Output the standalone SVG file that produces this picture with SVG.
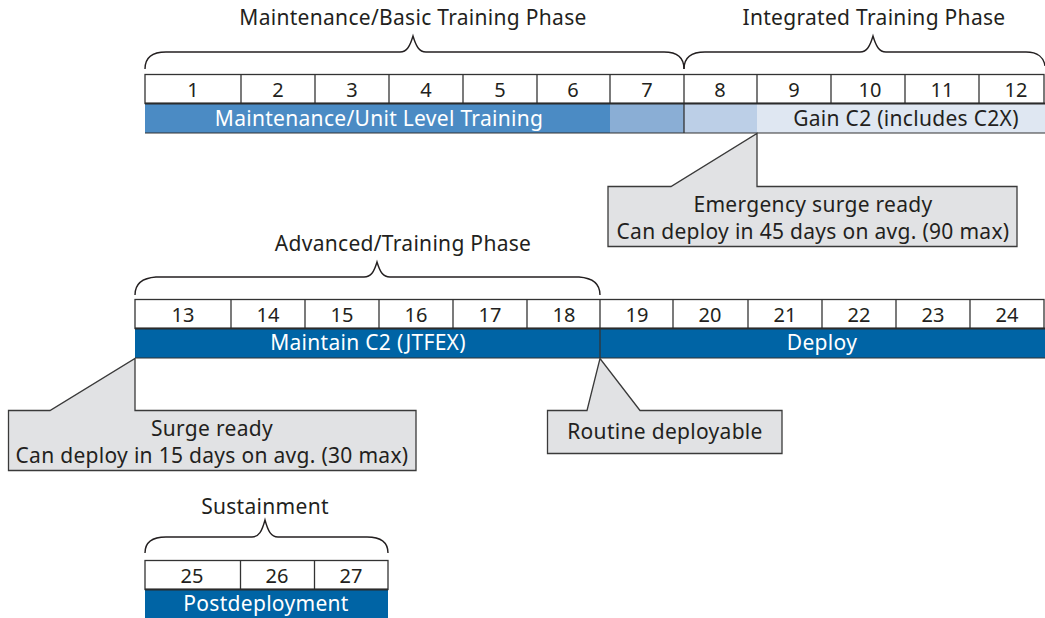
<svg xmlns="http://www.w3.org/2000/svg" width="1045" height="618" viewBox="0 0 1045 618">
  <style>
    text { font-family: "Noto Sans", "Open Sans", sans-serif; fill: #231f20; letter-spacing: 0.3px; }
    .num { font-size: 20px; text-anchor: middle; letter-spacing: 0; }
    .title { font-size: 21px; text-anchor: middle; }
    .bartxt { font-size: 21px; text-anchor: middle; fill: #ffffff; }
    .bardark { font-size: 21px; text-anchor: middle; fill: #231f20; }
    .note { font-size: 21px; text-anchor: middle; }
    .cell { fill: #ffffff; stroke: #333333; stroke-width: 1.3; }
    .sep { stroke: #333333; stroke-width: 1.3; }
    .rule { stroke: #2b2b2b; stroke-width: 2; }
    .edge { stroke: #333333; stroke-width: 1.2; }
    .brace { fill: none; stroke: #231f20; stroke-width: 1.4; }
    .callout { fill: #e1e2e4; stroke: #3a3a3a; stroke-width: 1.3; stroke-linejoin: miter; }
  </style>

  <!-- Braces and phase headings -->
  <g id="phase-basic">
    <path class="brace" d="M145,69 C145,58 152,52 166,52 L400,52 C407,52 410,46 413,36 C416,46 419,52 426,52 L664,52 C677,52 684,58 684,69"/>
    <text class="title" x="413" y="25">Maintenance/Basic Training Phase</text>
  </g>
  <g id="phase-integrated">
    <path class="brace" d="M684,69 C684,58 691,52 705,52 L860,52 C867,52 870,46 873,36 C876,46 879,52 886,52 L1026,52 C1038,52 1044,58 1045,66"/>
    <text class="title" x="874" y="25">Integrated Training Phase</text>
  </g>
  <g id="phase-advanced">
    <path class="brace" d="M135,295 C135,284 142,278 156,277 L364,277 C371,277 374,272 377,262 C380,272 383,277 390,277 L579,277 C593,278 600,284 600,295"/>
    <text class="title" x="403" y="251">Advanced/Training Phase</text>
  </g>
  <g id="phase-sustainment">
    <path class="brace" d="M145,553 C145,543 152,537 166,537 L252,537 C259,537 262,531 265,520 C268,531 271,537 278,537 L367,537 C381,537 388,543 388,553"/>
    <text class="title" x="265" y="514">Sustainment</text>
  </g>

  <!-- Months 1-12 -->
  <g id="row-months-1-12">
    <rect class="cell" x="145" y="74.5" width="899" height="29"/>
    <rect x="145" y="103" width="465" height="30" fill="#4b8bc4"/>
    <rect x="610" y="103" width="74" height="30" fill="#8aaed5"/>
    <rect x="684" y="103" width="73" height="30" fill="#bccfe7"/>
    <rect x="757" y="103" width="288" height="30" fill="#dfe7f2"/>
    <line class="sep" x1="241" y1="74.5" x2="241" y2="103"/>
    <line class="sep" x1="315" y1="74.5" x2="315" y2="103"/>
    <line class="sep" x1="389" y1="74.5" x2="389" y2="103"/>
    <line class="sep" x1="463" y1="74.5" x2="463" y2="103"/>
    <line class="sep" x1="537" y1="74.5" x2="537" y2="103"/>
    <line class="sep" x1="610" y1="74.5" x2="610" y2="103"/>
    <line class="sep" x1="684" y1="74.5" x2="684" y2="133"/>
    <line class="sep" x1="757" y1="74.5" x2="757" y2="103"/>
    <line class="sep" x1="831" y1="74.5" x2="831" y2="103"/>
    <line class="sep" x1="905" y1="74.5" x2="905" y2="103"/>
    <line class="sep" x1="979" y1="74.5" x2="979" y2="103"/>
    <line class="rule" x1="145" y1="103.5" x2="1045" y2="103.5"/>
    <line class="edge" x1="145" y1="133" x2="1045" y2="133"/>
    <text class="num" x="193" y="97">1</text>
    <text class="num" x="278" y="97">2</text>
    <text class="num" x="352" y="97">3</text>
    <text class="num" x="426" y="97">4</text>
    <text class="num" x="500" y="97">5</text>
    <text class="num" x="573" y="97">6</text>
    <text class="num" x="647" y="97">7</text>
    <text class="num" x="720" y="97">8</text>
    <text class="num" x="794" y="97">9</text>
    <text class="num" x="870" y="97">10</text>
    <text class="num" x="942" y="97">11</text>
    <text class="num" x="1016" y="97">12</text>
    <text class="bartxt" x="379" y="126">Maintenance/Unit Level Training</text>
    <text class="bardark" x="906" y="126">Gain C2 (includes C2X)</text>
  </g>

  <!-- Months 13-24 -->
  <g id="row-months-13-24">
    <rect class="cell" x="135" y="299.5" width="909" height="29"/>
    <rect x="135" y="328" width="910" height="30" fill="#0064a5"/>
    <line class="sep" x1="231" y1="299.5" x2="231" y2="328"/>
    <line class="sep" x1="305" y1="299.5" x2="305" y2="328"/>
    <line class="sep" x1="379" y1="299.5" x2="379" y2="328"/>
    <line class="sep" x1="453" y1="299.5" x2="453" y2="328"/>
    <line class="sep" x1="527" y1="299.5" x2="527" y2="328"/>
    <line class="sep" x1="600" y1="299.5" x2="600" y2="358"/>
    <line class="sep" x1="673" y1="299.5" x2="673" y2="328"/>
    <line class="sep" x1="748" y1="299.5" x2="748" y2="328"/>
    <line class="sep" x1="822" y1="299.5" x2="822" y2="328"/>
    <line class="sep" x1="896" y1="299.5" x2="896" y2="328"/>
    <line class="sep" x1="970" y1="299.5" x2="970" y2="328"/>
    <line class="rule" x1="135" y1="328.5" x2="1045" y2="328.5"/>
    <line class="edge" x1="135" y1="358" x2="1045" y2="358"/>
    <text class="num" x="183" y="322">13</text>
    <text class="num" x="268" y="322">14</text>
    <text class="num" x="342" y="322">15</text>
    <text class="num" x="416" y="322">16</text>
    <text class="num" x="490" y="322">17</text>
    <text class="num" x="564" y="322">18</text>
    <text class="num" x="637" y="322">19</text>
    <text class="num" x="710" y="322">20</text>
    <text class="num" x="785" y="322">21</text>
    <text class="num" x="859" y="322">22</text>
    <text class="num" x="933" y="322">23</text>
    <text class="num" x="1007" y="322">24</text>
    <text class="bartxt" x="368" y="350">Maintain C2 (JTFEX)</text>
    <text class="bartxt" x="822" y="350">Deploy</text>
  </g>

  <!-- Months 25-27 -->
  <g id="row-months-25-27">
    <rect class="cell" x="145" y="560.5" width="243" height="29"/>
    <rect x="145" y="589" width="243" height="29" fill="#0064a5"/>
    <line class="sep" x1="240.5" y1="560.5" x2="240.5" y2="589"/>
    <line class="sep" x1="314.5" y1="560.5" x2="314.5" y2="589"/>
    <line class="rule" x1="145" y1="589.5" x2="388" y2="589.5"/>
    <text class="num" x="192" y="583">25</text>
    <text class="num" x="277" y="583">26</text>
    <text class="num" x="351" y="583">27</text>
    <text class="bartxt" x="266" y="611">Postdeployment</text>
  </g>

  <!-- Readiness callouts -->
  <g id="connectors">
    <polygon id="callout-emergency" class="callout" points="608,186.5 671,186.5 757,133.5 757,186.5 1017,186.5 1017,246.5 608,246.5"/>
    <polygon id="callout-surge" class="callout" points="8.5,410.5 50,410.5 135,358.5 135,410.5 416,410.5 416,470.5 8.5,470.5"/>
    <polygon id="callout-routine" class="callout" points="547.5,410.5 587,410.5 600,358.5 640,410.5 782,410.5 782,453.5 547.5,453.5"/>
  </g>
  <g id="note-emergency">
    <text class="note" x="813" y="212">Emergency surge ready</text>
    <text class="note" x="813" y="239">Can deploy in 45 days on avg. (90 max)</text>
  </g>
  <g id="note-surge">
    <text class="note" x="212" y="436">Surge ready</text>
    <text class="note" x="212" y="463">Can deploy in 15 days on avg. (30 max)</text>
  </g>
  <g id="note-routine">
    <text class="note" x="665" y="439">Routine deployable</text>
  </g>
</svg>
